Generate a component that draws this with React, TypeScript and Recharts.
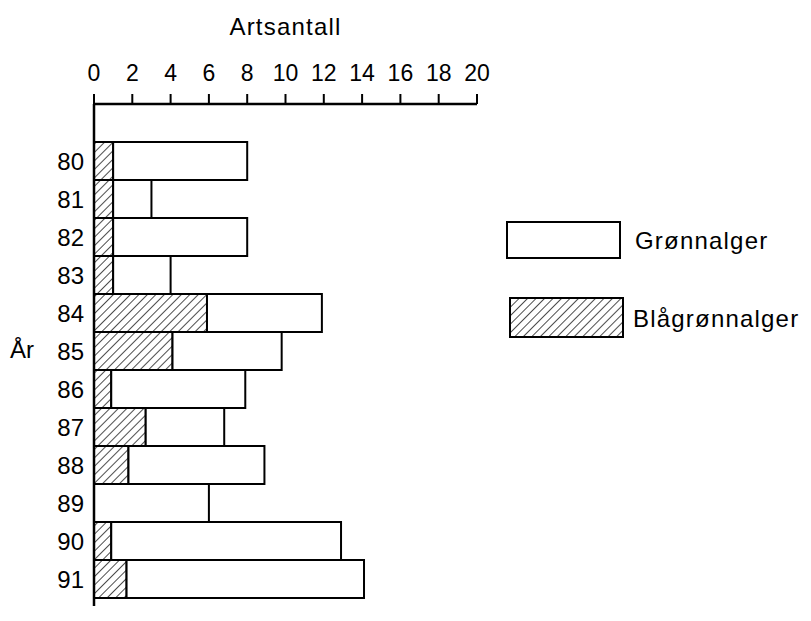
import { BarChart, Bar, XAxis, YAxis } from "recharts";

// Årstall (y-aksen)
const years = ["80", "81", "82", "83", "84", "85", "86", "87", "88", "89", "90", "91"];
// Antall arter blågrønnalger (skravert del)
const blaagronnalger = [1, 1, 1, 1, 5.9, 4.1, 0.9, 2.7, 1.8, 0, 0.9, 1.7];
// Totalt artsantall (enden av hver stolpe)
const totaltArtsantall = [8, 3, 8, 4, 11.9, 9.8, 7.9, 6.8, 8.9, 6, 12.9, 14.1];
// Tick-verdier på artsantall-aksen
const xTicks = [0, 2, 4, 6, 8, 10, 12, 14, 16, 18, 20];

const data = years.map((year, i) => ({
  year,
  blaa: blaagronnalger[i],
  gronn: totaltArtsantall[i] - blaagronnalger[i],
}));

const font = "'Liberation Sans', Arial, Helvetica, sans-serif";

const Hatch = ({ id }: { id: string }) => (
  <defs>
    <pattern id={id} width={6} height={6} patternUnits="userSpaceOnUse" patternTransform="rotate(45)">
      <line x1={0} y1={0} x2={0} y2={6} stroke="#000" strokeWidth={1.4} />
    </pattern>
  </defs>
);

function LegendBox() {
  return (
    <svg
      width={305}
      height={130}
      style={{ position: "absolute", left: 500, top: 215, fontFamily: font }}
    >
      <Hatch id="hatchLegend" />
      <rect x={7} y={7} width={113} height={36} fill="#fff" stroke="#000" strokeWidth={2} />
      <text x={135} y={25} dominantBaseline="central" fontSize={24} letterSpacing={1.2} fill="#000">
        Grønnalger
      </text>
      <rect x={10} y={83} width={113} height={39} fill="url(#hatchLegend)" stroke="#000" strokeWidth={2} />
      <text x={133} y={103} dominantBaseline="central" fontSize={24} letterSpacing={1.2} fill="#000">
        Blågrønnalger
      </text>
    </svg>
  );
}

export default function App() {
  return (
    <div style={{ position: "absolute", left: 0, top: 0, width: 811, height: 621, background: "#fff", fontFamily: font }}>
      <BarChart
        width={811}
        height={621}
        data={data}
        layout="vertical"
        barCategoryGap={0}
        margin={{ top: 0, right: 334, bottom: 15, left: 0 }}
      >
        <Hatch id="hatchBar" />
        <XAxis
          type="number"
          orientation="top"
          domain={[0, 20]}
          ticks={xTicks}
          interval={0}
          height={104}
          tickSize={10}
          tickMargin={13}
          axisLine={{ stroke: "#000", strokeWidth: 2.5 }}
          tickLine={{ stroke: "#000", strokeWidth: 2 }}
          tick={{ fill: "#000", fontSize: 23 }}
          label={{ value: "Artsantall", position: "insideTop", offset: 18, fill: "#000", fontSize: 24, letterSpacing: 1.2 }}
        />
        <YAxis
          type="category"
          dataKey="year"
          width={94}
          padding={{ top: 38, bottom: 8 }}
          tickLine={false}
          tickSize={0}
          tickMargin={10}
          axisLine={{ stroke: "#000", strokeWidth: 2.5 }}
          tick={{ fill: "#000", fontSize: 24 }}
          label={{ value: "År", position: "insideLeft", offset: 10, dy: -6, fill: "#000", fontSize: 24 }}
        />
        <Bar dataKey="blaa" stackId="a" fill="url(#hatchBar)" stroke="#000" strokeWidth={2} isAnimationActive={false} />
        <Bar dataKey="gronn" stackId="a" fill="#fff" stroke="#000" strokeWidth={2} isAnimationActive={false} />
      </BarChart>
      <LegendBox />
    </div>
  );
}
